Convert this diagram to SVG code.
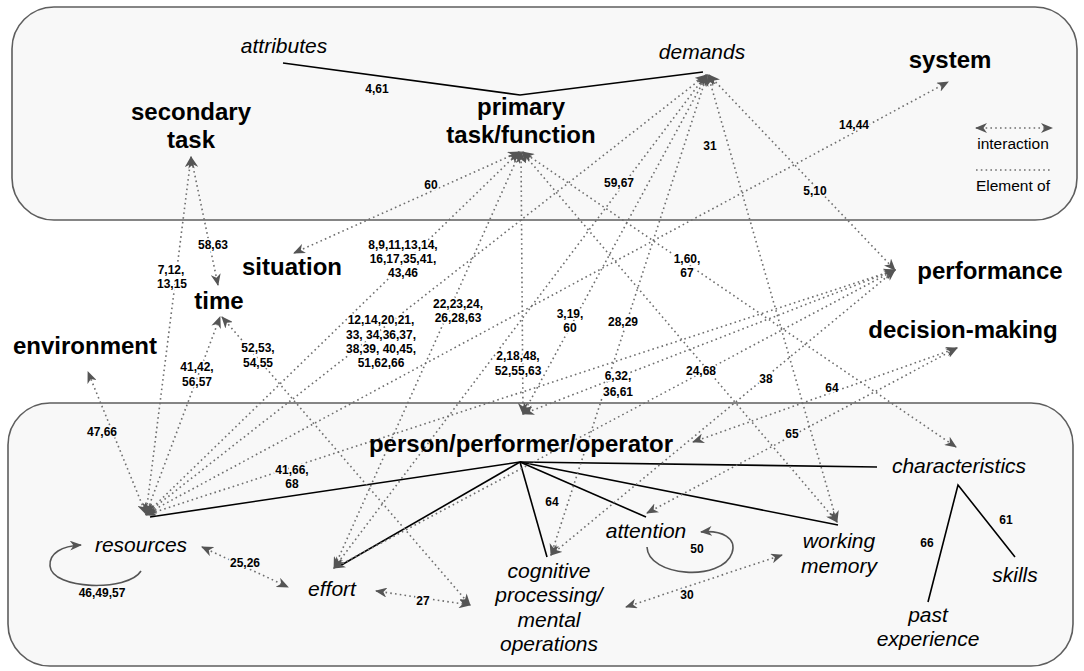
<svg xmlns="http://www.w3.org/2000/svg" width="1084" height="671" viewBox="0 0 1084 671">
<style>
.box{fill:#f8f8f8;stroke:#5e5e5e;stroke-width:1.6}
.nb{font-family:"Liberation Sans",Arial,sans-serif;font-weight:bold;font-size:24px;fill:#000;text-anchor:middle}
.ni{font-family:"Liberation Sans",Arial,sans-serif;font-style:italic;font-size:21px;fill:#000;text-anchor:middle}
.leg{font-family:"Liberation Sans",Arial,sans-serif;font-size:15.5px;fill:#000;text-anchor:middle}
.lb{font-family:"Liberation Sans",Arial,sans-serif;font-weight:bold;font-size:12px;fill:#000;text-anchor:middle;paint-order:stroke;stroke:#fff;stroke-width:3.5px;stroke-linejoin:round}
.lb.in{stroke:#f8f8f8}
.dot{fill:none;stroke:#6e6e6e;stroke-width:1.6;stroke-dasharray:1.6 3.2;marker-start:url(#ah);marker-end:url(#ah)}
.plain{fill:none;stroke:#6e6e6e;stroke-width:1.6;stroke-dasharray:1.6 3.2}
.sol{fill:none;stroke:#000;stroke-width:1.6}
.loop{fill:none;stroke:#555;stroke-width:1.6;marker-end:url(#ah)}
</style>
<defs>
<marker id="ah" viewBox="0 0 12 10" refX="11" refY="5" markerWidth="12" markerHeight="10" orient="auto-start-reverse" markerUnits="userSpaceOnUse">
<path d="M0,0 L12,5 L0,10 L3.5,5 Z" fill="#555"/>
</marker>
</defs>

<g id="frames">
<rect class="box" x="12" y="7" width="1065" height="213" rx="42"/>
<rect class="box" x="8" y="403" width="1065" height="263" rx="42"/>
</g>

<g id="connectors">
<!-- solid element-of lines -->
<polyline class="sol" points="283,63 520,95 703,72"/>
<line class="sol" x1="520" y1="462" x2="150" y2="517"/>
<line class="sol" x1="520" y1="462" x2="338" y2="567"/>
<line class="sol" x1="520" y1="462" x2="547" y2="557"/>
<line class="sol" x1="520" y1="462" x2="646" y2="517"/>
<line class="sol" x1="520" y1="462" x2="838" y2="525"/>
<line class="sol" x1="520" y1="462" x2="877" y2="467"/>
<polyline class="sol" points="928,602 958,485 1015,557"/>
<!-- self loops -->
<path class="loop" d="M141,571 C128,592 52,590 50,566 C49,553 62,546 81,545"/>
<path class="loop" d="M647,547 C648,577 722,582 732,553 C737,538 722,530 701,532"/>
<!-- interactions -->
<line class="dot" x1="519" y1="152" x2="294" y2="253"/>
<line class="dot" x1="519" y1="152" x2="146" y2="514"/>
<line class="dot" x1="520" y1="152" x2="334" y2="568"/>
<line class="dot" x1="521" y1="152" x2="523" y2="414"/>
<line class="dot" x1="522" y1="152" x2="837" y2="522"/>
<line class="dot" x1="523" y1="152" x2="956" y2="447"/>
<line class="dot" x1="706" y1="75" x2="334" y2="568"/>
<line class="dot" x1="706" y1="75" x2="146" y2="514"/>
<line class="dot" x1="707" y1="75" x2="523" y2="414"/>
<line class="dot" x1="707" y1="75" x2="551" y2="555"/>
<line class="dot" x1="708" y1="75" x2="837" y2="522"/>
<line class="dot" x1="709" y1="75" x2="895" y2="270"/>
<line class="dot" x1="146" y1="514" x2="948" y2="82"/>
<line class="dot" x1="146" y1="515" x2="895" y2="270"/>
<line class="dot" x1="523" y1="414" x2="895" y2="270"/>
<line class="dot" x1="334" y1="568" x2="895" y2="270"/>
<line class="dot" x1="551" y1="555" x2="895" y2="270"/>
<line class="dot" x1="693" y1="442" x2="957" y2="348"/>
<line class="dot" x1="647" y1="513" x2="957" y2="348"/>
<line class="dot" x1="146" y1="514" x2="88" y2="372"/>
<line class="dot" x1="146" y1="514" x2="191" y2="157"/>
<line class="dot" x1="191" y1="157" x2="218" y2="285"/>
<line class="dot" x1="146" y1="514" x2="220" y2="317"/>
<line class="dot" x1="222" y1="317" x2="470" y2="605"/>
<line class="dot" x1="202" y1="547" x2="288" y2="587"/>
<line class="dot" x1="376" y1="591" x2="470" y2="605"/>
<line class="dot" x1="626" y1="607" x2="782" y2="555"/>
</g>

<g id="legend">
<line class="dot" x1="976" y1="128" x2="1052" y2="128"/>
<text class="leg" x="1013" y="149">interaction</text>
<line class="plain" x1="976" y1="170" x2="1052" y2="170"/>
<text class="leg" x="1013" y="191">Element of</text>
</g>

<g id="edge-labels">
<text class="lb in" x="377" y="93">4,61</text>
<text class="lb in" x="431" y="189">60</text>
<text class="lb in" x="619" y="187">59,67</text>
<text class="lb in" x="710" y="150">31</text>
<text class="lb in" x="854" y="129">14,44</text>
<text class="lb in" x="815" y="195">5,10</text>
<text class="lb" x="213" y="249">58,63</text>
<text class="lb" x="171" y="274">7,12,</text>
<text class="lb" x="172" y="288">13,15</text>
<text class="lb" x="197" y="371">41,42,</text>
<text class="lb" x="197" y="386">56,57</text>
<text class="lb" x="258" y="352">52,53,</text>
<text class="lb" x="258" y="367">54,55</text>
<text class="lb" x="403" y="249">8,9,11,13,14,</text>
<text class="lb" x="403" y="263">16,17,35,41,</text>
<text class="lb" x="403" y="277">43,46</text>
<text class="lb" x="381" y="324">12,14,20,21,</text>
<text class="lb" x="381" y="338.5">33, 34,36,37,</text>
<text class="lb" x="381" y="353">38,39, 40,45,</text>
<text class="lb" x="381" y="367">51,62,66</text>
<text class="lb" x="458" y="308">22,23,24,</text>
<text class="lb" x="458" y="322">26,28,63</text>
<text class="lb" x="570" y="318">3,19,</text>
<text class="lb" x="570" y="332">60</text>
<text class="lb" x="623" y="326">28,29</text>
<text class="lb" x="518" y="360">2,18,48,</text>
<text class="lb" x="518" y="375">52,55,63</text>
<text class="lb" x="687" y="263">1,60,</text>
<text class="lb" x="687" y="277">67</text>
<text class="lb" x="618" y="380">6,32,</text>
<text class="lb" x="618" y="396">36,61</text>
<text class="lb" x="701" y="375">24,68</text>
<text class="lb" x="766" y="383">38</text>
<text class="lb" x="832" y="392">64</text>
<text class="lb in" x="102" y="436">47,66</text>
<text class="lb in" x="292" y="474">41,66,</text>
<text class="lb in" x="292" y="488">68</text>
<text class="lb in" x="245" y="567">25,26</text>
<text class="lb in" x="102" y="597">46,49,57</text>
<text class="lb in" x="423" y="605">27</text>
<text class="lb in" x="552" y="506">64</text>
<text class="lb in" x="697" y="553">50</text>
<text class="lb in" x="687" y="599">30</text>
<text class="lb in" x="792" y="438">65</text>
<text class="lb in" x="927" y="547">66</text>
<text class="lb in" x="1006" y="524">61</text>
</g>

<g id="n-attributes"><text class="ni" x="284" y="53">attributes</text></g>
<g id="n-demands"><text class="ni" x="702" y="59">demands</text></g>
<g id="n-secondary-task"><text class="nb" x="191" y="120">secondary</text><text class="nb" x="191" y="148">task</text></g>
<g id="n-primary-task"><text class="nb" x="521" y="115">primary</text><text class="nb" x="521" y="143">task/function</text></g>
<g id="n-system"><text class="nb" x="950" y="68">system</text></g>
<g id="n-situation"><text class="nb" x="292" y="275">situation</text></g>
<g id="n-time"><text class="nb" x="219" y="309">time</text></g>
<g id="n-environment"><text class="nb" x="85" y="354">environment</text></g>
<g id="n-performance"><text class="nb" x="990" y="279">performance</text></g>
<g id="n-decision-making"><text class="nb" x="963" y="338">decision-making</text></g>
<g id="n-person"><text class="nb" x="521" y="452">person/performer/operator</text></g>
<g id="n-characteristics"><text class="ni" x="959" y="473">characteristics</text></g>
<g id="n-skills"><text class="ni" x="1015" y="582">skills</text></g>
<g id="n-past-experience"><text class="ni" x="928" y="622">past</text><text class="ni" x="928" y="646">experience</text></g>
<g id="n-working-memory"><text class="ni" x="839" y="548">working</text><text class="ni" x="839" y="573">memory</text></g>
<g id="n-attention"><text class="ni" x="646" y="538">attention</text></g>
<g id="n-cognitive"><text class="ni" x="549" y="578">cognitive</text><text class="ni" x="549" y="602">processing/</text><text class="ni" x="549" y="627">mental</text><text class="ni" x="549" y="651">operations</text></g>
<g id="n-effort"><text class="ni" x="332" y="596">effort</text></g>
<g id="n-resources"><text class="ni" x="141" y="552">resources</text></g>
</svg>
